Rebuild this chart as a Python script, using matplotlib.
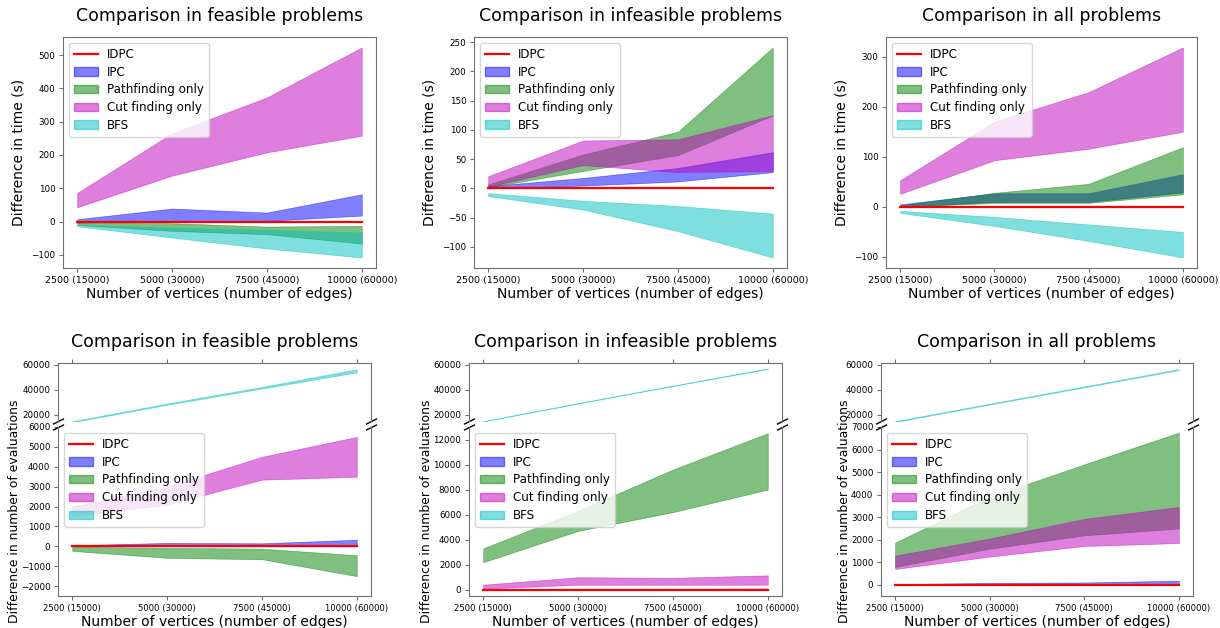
import matplotlib
matplotlib.use("Agg")
import matplotlib.pyplot as plt
from matplotlib.lines import Line2D
from matplotlib.patches import Patch

W, H = 1220, 628

X_LABELS = ["2500 (15000)", "5000 (30000)", "7500 (45000)", "10000 (60000)"]
METHODS = ["IDPC", "IPC", "Pathfinding only", "Cut finding only", "BFS"]
COLORS = ["red", "blue", "green", "m", "c"]
TITLES = ["Comparison in feasible problems", "Comparison in infeasible problems",
          "Comparison in all problems"]

# time difference (s), lower / upper bounds per method
TIME_FEAS_IPC = ([-3, 2, 2, 18], [7, 39, 27, 82])
TIME_FEAS_PATH = ([-10, -28, -38, -66], [-3, -5, -15, -13])
TIME_FEAS_CUT = ([43, 138, 208, 258], [86, 265, 373, 523])
TIME_FEAS_BFS = ([-14, -48, -81, -108], [-10, -18, -25, -33])

TIME_INF_IPC = ([0, 5, 12, 28], [4, 18, 35, 62])
TIME_INF_PATH = ([2, 30, 57, 125], [7, 58, 97, 241])
TIME_INF_CUT = ([3, 40, 28, 30], [21, 82, 84, 125])
TIME_INF_BFS = ([-13, -36, -73, -118], [-8, -21, -30, -43])

TIME_ALL_IPC = ([0, 10, 10, 29], [5, 27, 27, 65])
TIME_ALL_PATH = ([0, 8, 8, 25], [3, 28, 46, 119])
TIME_ALL_CUT = ([26, 93, 116, 150], [53, 170, 229, 318])
TIME_ALL_BFS = ([-12, -38, -68, -101], [-8, -20, -35, -50])

# evaluation difference, lower / upper bounds per method
EVAL_FEAS_IPC = ([0, 0, 0, 0], [50, 170, 150, 330])
EVAL_FEAS_PATH = ([-230, -580, -650, -1500], [-20, -80, -120, -450])
EVAL_FEAS_CUT = ([1500, 2100, 3350, 3500], [2000, 3000, 4500, 5500])
EVAL_FEAS_BFS = ([14000, 28000, 41000, 54000], [14800, 29000, 42300, 56500])

EVAL_INF_IPC = ([0, 0, 0, 0], [60, 80, 80, 100])
EVAL_INF_PATH = ([2200, 4700, 6200, 8000], [3300, 6300, 9600, 12500])
EVAL_INF_CUT = ([100, 400, 400, 400], [400, 1000, 950, 1150])
EVAL_INF_BFS = ([14500, 29000, 43000, 56700], [14900, 29400, 43400, 57200])

EVAL_ALL_IPC = ([0, 0, 0, 0], [30, 80, 100, 180])
EVAL_ALL_PATH = ([790, 1600, 2190, 2500], [1870, 3900, 5340, 6750])
EVAL_ALL_CUT = ([700, 1250, 1720, 1850], [1290, 2050, 2920, 3450])
EVAL_ALL_BFS = ([14200, 28200, 42000, 55800], [14900, 28900, 42700, 56600])

TIME_DATA = [
    [TIME_FEAS_IPC, TIME_FEAS_PATH, TIME_FEAS_CUT, TIME_FEAS_BFS],
    [TIME_INF_IPC, TIME_INF_PATH, TIME_INF_CUT, TIME_INF_BFS],
    [TIME_ALL_IPC, TIME_ALL_PATH, TIME_ALL_CUT, TIME_ALL_BFS],
]
EVAL_DATA = [
    [EVAL_FEAS_IPC, EVAL_FEAS_PATH, EVAL_FEAS_CUT, EVAL_FEAS_BFS],
    [EVAL_INF_IPC, EVAL_INF_PATH, EVAL_INF_CUT, EVAL_INF_BFS],
    [EVAL_ALL_IPC, EVAL_ALL_PATH, EVAL_ALL_CUT, EVAL_ALL_BFS],
]
EVAL_LOW_YLIM = [(-2500, 6000), (-500, 13000), (-500, 7000)]
EVAL_HIGH_YLIM = (15000, 61500)

SPINE = "#707070"
TITLE_FS = 12.5
LABEL_FS = 10
LEGEND_FS = 8.6


def rect(x0, y0, x1, y1):
    return [x0 / W, 1 - y1 / H, (x1 - x0) / W, (y1 - y0) / H]


def style(ax, xfs, yfs):
    for s in ax.spines.values():
        s.set_color(SPINE)
    ax.tick_params(color=SPINE, length=3, pad=2.5)
    ax.tick_params(axis="x", labelsize=xfs)
    ax.tick_params(axis="y", labelsize=yfs)


def draw_series(ax, x, bands, with_idpc=True):
    if with_idpc:
        ax.plot(x, [0] * len(x), color=COLORS[0], lw=1.6, zorder=3)
    for (lo, hi), c in zip(bands, COLORS[1:]):
        ax.fill_between(x, lo, hi, color=c, alpha=0.5, lw=0.5)


def add_legend(ax):
    handles = [Line2D([], [], color=COLORS[0], lw=1.6)]
    handles += [Patch(facecolor=c, edgecolor=c, alpha=0.5) for c in COLORS[1:]]
    ax.legend(handles, METHODS, loc="upper left", fontsize=LEGEND_FS,
              labelspacing=0.4)


fig = plt.figure(figsize=(W / 100, H / 100), dpi=100)
x = list(range(len(X_LABELS)))

top_boxes = [(63, 37, 376, 268), (474, 37, 787, 268), (886, 37, 1197, 268)]
for i, box in enumerate(top_boxes):
    ax = fig.add_axes(rect(*box))
    draw_series(ax, x, TIME_DATA[i])
    ax.set_xticks(x)
    ax.set_xticklabels(X_LABELS)
    ax.set_title(TITLES[i], fontsize=TITLE_FS, pad=11.5)
    ax.set_xlabel("Number of vertices (number of edges)", fontsize=LABEL_FS,
                  labelpad=2)
    ax.set_ylabel("Difference in time (s)", fontsize=LABEL_FS)
    add_legend(ax)
    style(ax, 6.8, 6.3)

bottom_cols = [(58, 371), (469, 782), (881, 1193)]
for i, (xa, xb) in enumerate(bottom_cols):
    ax_hi = fig.add_axes(rect(xa, 363, xb, 421))
    ax_lo = fig.add_axes(rect(xa, 427, xb, 596))
    draw_series(ax_hi, x, EVAL_DATA[i], with_idpc=False)
    draw_series(ax_lo, x, EVAL_DATA[i])
    ax_hi.set_ylim(*EVAL_HIGH_YLIM)
    ax_lo.set_ylim(*EVAL_LOW_YLIM[i])
    ax_hi.set_yticks([20000, 40000, 60000])
    for a in (ax_hi, ax_lo):
        a.set_xticks(x)
        a.set_xlim(-0.15, 3.15)
    ax_lo.set_xticklabels(X_LABELS)
    ax_hi.spines["bottom"].set_visible(False)
    ax_lo.spines["top"].set_visible(False)
    ax_hi.xaxis.tick_top()
    ax_hi.tick_params(labeltop=False)
    ax_lo.xaxis.tick_bottom()
    ax_hi.set_title(TITLES[i], fontsize=TITLE_FS, pad=11.5)
    ax_lo.set_xlabel("Number of vertices (number of edges)", fontsize=LABEL_FS,
                     labelpad=2)
    ax_lo.set_ylabel("Difference in number of evaluations", fontsize=8.9,
                     labelpad=0)
    add_legend(ax_lo)
    style(ax_hi, 6.1, 6.3)
    style(ax_lo, 6.1, 6.3)

    d = 0.5
    kw = dict(marker=[(-1, -d), (1, d)], markersize=8, linestyle="none",
              color="k", mec="k", mew=1, clip_on=False)
    ax_hi.plot([0, 1], [0, 0], transform=ax_hi.transAxes, **kw)
    ax_lo.plot([0, 1], [1, 1], transform=ax_lo.transAxes, **kw)

fig.savefig("out.png", dpi=100)
